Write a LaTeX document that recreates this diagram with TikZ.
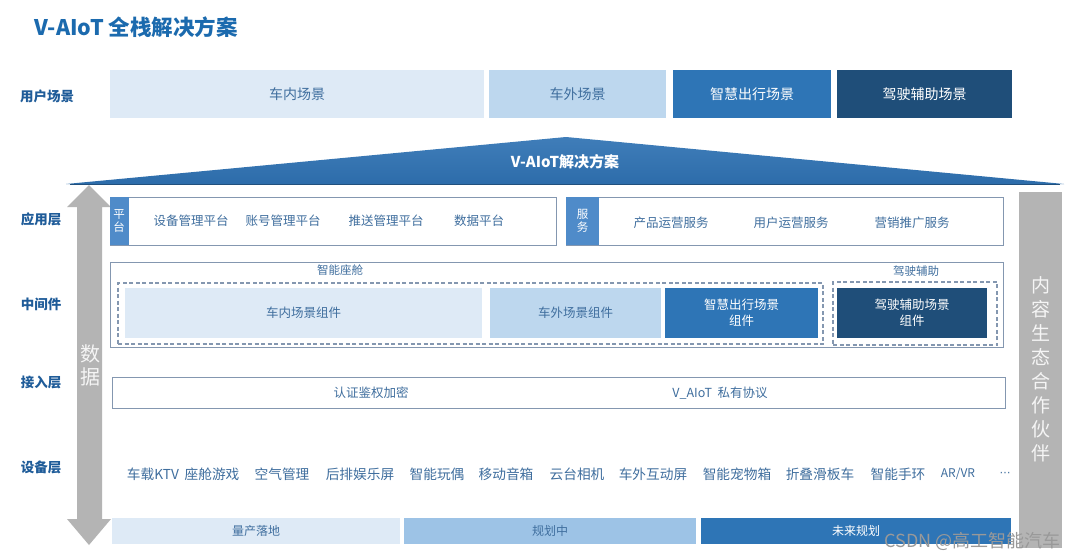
\documentclass[tikz,border=0pt]{standalone}
\usepackage{fontspec}
\setmainfont{Noto Sans CJK SC}
\newfontfamily\dejavu{DejaVu Sans}
\definecolor{cA}{HTML}{DEEAF6}
\definecolor{cB}{HTML}{BDD7EE}
\definecolor{cC}{HTML}{2E75B6}
\definecolor{cD}{HTML}{1F4E79}
\definecolor{tagblue}{HTML}{4F8BC9}
\definecolor{edge}{HTML}{8497B0}
\definecolor{lblblue}{HTML}{1F5C99}
\definecolor{txtblue}{HTML}{3F6E9E}
\definecolor{titleblue}{HTML}{1B6AAE}
\definecolor{arrowgray}{HTML}{B4B4B4}
\definecolor{roofblue}{HTML}{2F72B3}
\definecolor{midbar}{HTML}{9DC3E6}
\tikzset{
  rowlabel/.style={text=lblblue, font=\fontsize{13.5}{14}\selectfont\bfseries},
  fillbox/.style={draw=none, inner sep=0pt, align=center},
  framebox/.style={draw=edge, line width=0.8pt, inner sep=0pt, fill=white},
  dashbox/.style={draw=edge, line width=1.1pt, dash pattern=on 4pt off 2.5pt, inner sep=0pt},
  itemtxt/.style={text=txtblue, font=\fontsize{12.5}{13}\selectfont},
  devtxt/.style={text=txtblue, font=\fontsize{13.7}{14}\selectfont},
}
\begin{document}
\begin{tikzpicture}[x=1pt,y=-1pt]
\fill[white] (0,0) rectangle (1080,560);
\useasboundingbox (0,0) rectangle (1080,560);

% title
\node[anchor=west, text=titleblue, font=\fontsize{21.5}{23}\selectfont\bfseries] (title) at (31,27) {V-AIoT 全栈解决方案};

% row labels
\node[rowlabel] (l1) at (47,96) {用户场景};
\node[rowlabel] (l2) at (41,219) {应用层};
\node[rowlabel] (l3) at (41,304) {中间件};
\node[rowlabel] (l4) at (41,382) {接入层};
\node[rowlabel] (l5) at (41,467) {设备层};

% user scenarios
\node[fillbox, fill=cA, minimum width=374pt, minimum height=48pt, text=txtblue, font=\fontsize{14}{15}\selectfont] (s1) at (297,94) {车内场景};
\node[fillbox, fill=cB, minimum width=177pt, minimum height=48pt, text=txtblue, font=\fontsize{14}{15}\selectfont] (s2) at (577.5,94) {车外场景};
\node[fillbox, fill=cC, minimum width=158pt, minimum height=48pt, text=white, font=\fontsize{14}{15}\selectfont] (s3) at (752,94) {智慧出行场景};
\node[fillbox, fill=cD, minimum width=175pt, minimum height=48pt, text=white, font=\fontsize{14}{15}\selectfont] (s4) at (924.5,94) {驾驶辅助场景};

% roof
\shade[top color=roofblue!92!white, bottom color=roofblue!95!black] (66,184) -- (566,137) -- (1064,184) -- cycle;
\draw[roofblue!70!black, line width=0.6pt] (70,184) -- (1060,184);
\node[text=white, font=\fontsize{15}{16}\selectfont\bfseries] (roof) at (565,162) {V-AIoT解决方案};

% left double arrow
\fill[arrowgray] (89,185) -- (111,207) -- (102,207) -- (102,519) -- (111,519) -- (89,545) -- (67,519) -- (77,519) -- (77,207) -- (67,207) -- cycle;
\node[text=white!92!gray, font=\fontsize{20}{24}\selectfont, align=center] (data) at (90,365) {数\\[-1pt]据};

% right bar
\fill[arrowgray] (1019,192) rectangle (1062,548);
\node[text=white!92!gray, font=\fontsize{19}{24}\selectfont, align=center] (eco) at (1041,369) {内\\容\\生\\态\\合\\作\\伙\\伴};

% application layer
\node[framebox, minimum width=446pt, minimum height=48pt] (pbox) at (333,221) {};
\node[fillbox, fill=tagblue, minimum width=19pt, minimum height=48pt, text=white, font=\fontsize{11.5}{13}\selectfont] (ptag) at (119,221) {平\\台};
\node[itemtxt] (p1) at (191,221) {设备管理平台};
\node[itemtxt] (p2) at (283,221) {账号管理平台};
\node[itemtxt] (p3) at (386,221) {推送管理平台};
\node[itemtxt] (p4) at (479,221) {数据平台};

\node[framebox, minimum width=437pt, minimum height=48pt] (sbox) at (784.5,221) {};
\node[fillbox, fill=tagblue, minimum width=33pt, minimum height=48pt, text=white, font=\fontsize{11.5}{13}\selectfont] (stag) at (582.5,221) {服\\务};
\node[itemtxt] (q1) at (671,223) {产品运营服务};
\node[itemtxt] (q2) at (791,223) {用户运营服务};
\node[itemtxt] (q3) at (912,223) {营销推广服务};

% middleware
\node[framebox, minimum width=893pt, minimum height=85pt] (mbox) at (556.5,304.5) {};
\node[itemtxt, font=\fontsize{11.5}{12}\selectfont] (mlab1) at (340,270) {智能座舱};
\node[itemtxt, font=\fontsize{11.5}{12}\selectfont] (mlab2) at (916,271) {驾驶辅助};
\node[dashbox, minimum width=705pt, minimum height=61pt] (dl) at (470.5,313.5) {};
\node[dashbox, minimum width=164pt, minimum height=63pt] (dr) at (915,313.5) {};
\node[fillbox, fill=cA, minimum width=357pt, minimum height=50pt, text=txtblue, font=\fontsize{12.5}{13}\selectfont] (m1) at (303.5,313) {车内场景组件};
\node[fillbox, fill=cB, minimum width=171pt, minimum height=50pt, text=txtblue, font=\fontsize{12.5}{13}\selectfont] (m2) at (575.5,313) {车外场景组件};
\node[fillbox, fill=cC, minimum width=153pt, minimum height=50pt, text=white, font=\fontsize{12.5}{16}\selectfont] (m3) at (741.5,313) {智慧出行场景\\组件};
\node[fillbox, fill=cD, minimum width=150pt, minimum height=50pt, text=white, font=\fontsize{12.5}{16}\selectfont] (m4) at (912,313) {驾驶辅助场景\\组件};

% access layer
\node[framebox, minimum width=893pt, minimum height=31pt] (abox) at (558.5,392.5) {};
\node[itemtxt] (a1) at (371,393) {认证鉴权加密};
\node[itemtxt] (a2) at (720,393) {V\_AIoT\ \ 私有协议};

% device layer
\node[devtxt] (d1) at (153,474) {车载KTV};
\node[devtxt] (d2) at (212,474) {座舱游戏};
\node[devtxt] (d3) at (282,474) {空气管理};
\node[devtxt] (d4) at (360,474) {后排娱乐屏};
\node[devtxt] (d5) at (437,474) {智能玩偶};
\node[devtxt] (d6) at (506,474) {移动音箱};
\node[devtxt] (d7) at (577,474) {云台相机};
\node[devtxt] (d8) at (653,474) {车外互动屏};
\node[devtxt] (d9) at (737,474) {智能宠物箱};
\node[devtxt] (d10) at (820,474) {折叠滑板车};
\node[devtxt] (d11) at (898,474) {智能手环};
\node[devtxt, font=\fontsize{12}{13}\selectfont] (d12) at (958,474) {AR/VR};
\node[devtxt, font=\dejavu\fontsize{11}{12}\selectfont] (d13) at (1005,474) {⋯};

% bottom bars
\node[fillbox, fill=cA, minimum width=288pt, minimum height=26pt, text=txtblue, font=\fontsize{12}{13}\selectfont] (b1) at (256,531) {量产落地};
\node[fillbox, fill=midbar, minimum width=292pt, minimum height=26pt, text=txtblue, font=\fontsize{12}{13}\selectfont] (b2) at (550,531) {规划中};
\node[fillbox, fill=cC, minimum width=310pt, minimum height=26pt, text=white, font=\fontsize{12}{13}\selectfont] (b3) at (856,531) {未来规划};

% watermark
\node[anchor=east, text=gray!80, font=\fontsize{18}{19}\selectfont] (wm) at (1064,541) {CSDN @高工智能汽车};
\end{tikzpicture}
\end{document}
